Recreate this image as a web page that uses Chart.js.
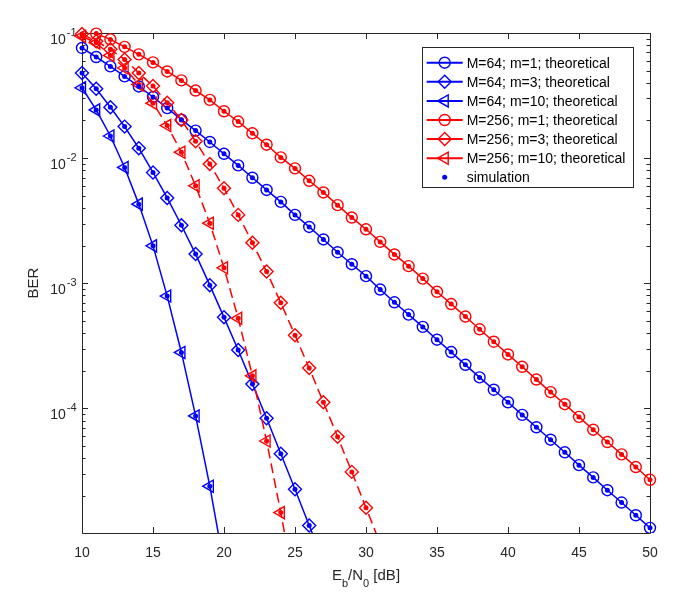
<!DOCTYPE html>
<html>
<head>
<meta charset="utf-8">
<script src="https://cdn.jsdelivr.net/npm/chart.js@4.4.1/dist/chart.umd.min.js"></script>
<style>
html, body { margin: 0; padding: 0; background: #fff; }
canvas { display: block; }
</style>
</head>
<body>
<canvas id="ber-chart" width="689" height="601"></canvas>
<script>
// Eb/N0 grid [dB]
var ebn0 = [10, 11, 12, 13, 14, 15, 16, 17, 18, 19, 20, 21, 22, 23, 24, 25, 26, 27, 28, 29,
	30, 31, 32, 33, 34, 35, 36, 37, 38, 39, 40, 41, 42, 43, 44, 45, 46, 47, 48, 49, 50];

// BER, each list starts at the Eb/N0 given in "first" below
var ber64m1 = [0.0759, 0.0643, 0.0541, 0.0450, 0.0374, 0.0308, 0.0251, 0.0203, 0.0166, 0.01346,
	0.01083, 0.00875, 0.00697, 0.00557, 0.00447, 0.00352, 0.00282, 0.00224, 0.00177, 0.00142,
	0.00114, 8.91e-4, 7.05e-4, 5.62e-4, 4.48e-4, 3.54e-4, 2.82e-4, 2.23e-4, 1.77e-4, 1.41e-4,
	1.12e-4, 8.87e-5, 7.07e-5, 5.62e-5, 4.46e-5, 3.52e-5, 2.81e-5, 2.22e-5, 1.77e-5, 1.40e-5, 1.11e-5];
var ber64m3 = [0.0479, 0.0358, 0.0255, 0.01786, 0.0120, 0.00769, 0.00481, 0.00291, 0.00171, 9.66e-4,
	5.34e-4, 2.93e-4, 1.57e-4, 8.34e-5, 4.34e-5, 2.26e-5, 1.16e-5, 6.0e-6];
var ber64m10 = [0.0365, 0.0243, 0.01503, 0.00843, 0.00429, 0.00199, 7.9e-4, 2.80e-4, 8.71e-5, 2.39e-5, 5.6e-6];
var ber256m1 = [0.0989, 0.0889, 0.0775, 0.0675, 0.0582, 0.0493, 0.0418, 0.0347, 0.0292, 0.0237,
	0.0196, 0.0158, 0.0128, 0.01014, 0.00828, 0.00659, 0.00532, 0.00421, 0.00335, 0.00270,
	0.00214, 0.00170, 0.00137, 0.00109, 8.55e-4, 6.82e-4, 5.42e-4, 4.29e-4, 3.41e-4, 2.70e-4,
	2.15e-4, 1.70e-4, 1.35e-4, 1.08e-4, 8.55e-5, 6.76e-5, 5.39e-5, 4.29e-5, 3.40e-5, 2.69e-5];
var ber256m3 = [0.098, 0.086, 0.074, 0.0615, 0.0479, 0.0377, 0.0277, 0.0202, 0.01365, 0.00898,
	0.00575, 0.00352, 0.00211, 0.00124, 6.98e-4, 3.84e-4, 2.10e-4, 1.12e-4, 5.94e-5, 3.11e-5, 1.61e-5, 8.3e-6];
var ber256m10 = [0.0942, 0.0834, 0.0662, 0.0525, 0.0388, 0.0275, 0.0182, 0.01115, 0.00601, 0.00302,
	0.00133, 5.25e-4, 1.82e-4, 5.49e-5, 1.47e-5, 3.5e-6];

var xTicks = [10, 15, 20, 25, 30, 35, 40, 45, 50];
var yTickExps = [-1, -2, -3, -4];
var seriesLabels = ['M=64; m=1; theoretical', 'M=64; m=3; theoretical', 'M=64; m=10; theoretical',
	'M=256; m=1; theoretical', 'M=256; m=3; theoretical', 'M=256; m=10; theoretical'];
var simLabel = 'simulation';

var blue = '#0000ff', red = '#ff0000', axisColor = '#262626';
var font = "'Liberation Sans', Arial, sans-serif";

var series = [
	{ values: ber64m1, first: 10, color: blue, style: 'circle', radius: 5.5, rot: 0, dash: [] },
	{ values: ber64m3, first: 10, color: blue, style: 'rectRot', radius: 6.5, rot: 0, dash: [] },
	{ values: ber64m10, first: 10, color: blue, style: 'triangle', radius: 7, rot: -90, dash: [] },
	{ values: ber256m1, first: 11, color: red, style: 'circle', radius: 5.5, rot: 0, dash: [] },
	{ values: ber256m3, first: 10, color: red, style: 'rectRot', radius: 6.5, rot: 0, dash: [10, 5] },
	{ values: ber256m10, first: 10, color: red, style: 'triangle', radius: 7, rot: -90, dash: [10, 5] }
];

var toPoints = function(values, first) {
	var start = ebn0.indexOf(first);
	return values.map(function(v, i) { return { x: ebn0[start + i], y: v }; });
};

var clipBox = { left: 10, right: 10, top: 8, bottom: 0 };
var datasets = [];
series.forEach(function(s, i) {
	datasets.push({
		label: seriesLabels[i],
		data: toPoints(s.values, s.first),
		borderColor: s.color,
		borderWidth: 1.5,
		borderDash: s.dash,
		pointStyle: s.style,
		pointRotation: s.rot,
		pointRadius: s.radius,
		pointBorderWidth: 1.4,
		pointBorderColor: s.color,
		pointBackgroundColor: 'rgba(0,0,0,0)',
		fill: false,
		tension: 0,
		clip: clipBox,
		order: 10 - i
	});
});
series.forEach(function(s, i) {
	datasets.push({
		label: simLabel,
		data: toPoints(s.values, s.first),
		showLine: false,
		pointStyle: 'circle',
		pointRadius: 2.5,
		pointBorderWidth: 0,
		pointBackgroundColor: s.color,
		borderColor: s.color,
		clip: clipBox,
		order: 0
	});
});

var drawMarker = function(ctx, style, x, y, r) {
	ctx.beginPath();
	if (style === 'circle') {
		ctx.arc(x, y, r, 0, Math.PI * 2);
	} else if (style === 'rectRot') {
		ctx.moveTo(x - r, y); ctx.lineTo(x, y - r); ctx.lineTo(x + r, y); ctx.lineTo(x, y + r); ctx.closePath();
	} else {
		ctx.moveTo(x - r, y); ctx.lineTo(x + r / 2, y - r * 0.866); ctx.lineTo(x + r / 2, y + r * 0.866); ctx.closePath();
	}
	ctx.stroke();
};

// MATLAB-like box: inward ticks on all sides, superscript log labels, TeX-ish titles
var axesBox = {
	id: 'axesBox',
	beforeDatasetsDraw: function(chart) {
		var ctx = chart.ctx, a = chart.chartArea;
		var xs = chart.scales.x, ys = chart.scales.y;
		ctx.save();
		ctx.strokeStyle = axisColor;
		ctx.lineWidth = 1;
		ctx.beginPath();
		ctx.rect(a.left + 0.5, a.top + 0.5, a.right - a.left, a.bottom - a.top);
		xTicks.forEach(function(v) {
			var px = Math.round(xs.getPixelForValue(v)) + 0.5;
			ctx.moveTo(px, a.bottom); ctx.lineTo(px, a.bottom - 6);
			ctx.moveTo(px, a.top); ctx.lineTo(px, a.top + 6);
		});
		for (var e = -5; e <= -1; e++) {
			for (var m = 1; m <= 9; m++) {
				var v = m * Math.pow(10, e);
				if (v < ys.min || v > ys.max * 1.0001) continue;
				var py = Math.round(ys.getPixelForValue(v)) + 0.5;
				var len = m === 1 ? 6 : 3.5;
				ctx.moveTo(a.left, py); ctx.lineTo(a.left + len, py);
				ctx.moveTo(a.right, py); ctx.lineTo(a.right - len, py);
			}
		}
		ctx.stroke();

		ctx.fillStyle = axisColor;
		ctx.font = '14px ' + font;
		ctx.textAlign = 'center';
		ctx.textBaseline = 'alphabetic';
		xTicks.forEach(function(v) {
			ctx.fillText(String(v), xs.getPixelForValue(v), a.bottom + 24);
		});

		ctx.textAlign = 'right';
		yTickExps.forEach(function(e) {
			var py = ys.getPixelForValue(Math.pow(10, e));
			var expText = '-' + Math.abs(e);
			ctx.font = '11px ' + font;
			var ew = ctx.measureText(expText).width;
			ctx.fillText(expText, a.left - 5.5, py + 3);
			ctx.font = '14px ' + font;
			ctx.fillText('10', a.left - 6.5 - ew, py + 10.5);
		});

		// x title: E_b/N_0 [dB]
		var parts = [['E', 15, 0], ['b', 11, 7], ['/N', 15, 0], ['0', 11, 7], [' [dB]', 15, 0]];
		var total = 0;
		parts.forEach(function(p) { ctx.font = p[1] + 'px ' + font; total += ctx.measureText(p[0]).width; });
		var cx = (a.left + a.right) / 2 - total / 2;
		ctx.textAlign = 'left';
		parts.forEach(function(p) {
			ctx.font = p[1] + 'px ' + font;
			ctx.fillText(p[0], cx, 580 + p[2]);
			cx += ctx.measureText(p[0]).width;
		});

		// y title
		ctx.save();
		ctx.translate(38, (a.top + a.bottom) / 2);
		ctx.rotate(-Math.PI / 2);
		ctx.textAlign = 'center';
		ctx.font = '15px ' + font;
		ctx.fillText('BER', 0, 0);
		ctx.restore();
		ctx.restore();
	},
	afterDraw: function(chart) {
		var ctx = chart.ctx;
		var box = { left: 422.5, top: 47.5, width: 211, height: 140 };
		ctx.save();
		ctx.fillStyle = '#fff';
		ctx.fillRect(box.left, box.top, box.width, box.height);
		ctx.strokeStyle = axisColor;
		ctx.lineWidth = 1;
		ctx.strokeRect(box.left, box.top, box.width, box.height);
		ctx.font = '14px ' + font;
		ctx.textAlign = 'left';
		ctx.textBaseline = 'alphabetic';
		series.forEach(function(s, i) {
			var y = 62.7 + i * 19.1;
			ctx.strokeStyle = s.color;
			ctx.lineWidth = 2;
			ctx.beginPath();
			ctx.moveTo(426.7, y); ctx.lineTo(462.7, y);
			ctx.stroke();
			ctx.lineWidth = 1.4;
			drawMarker(ctx, s.style, 444.7, y, s.radius);
			ctx.fillStyle = '#000';
			ctx.fillText(seriesLabels[i], 466.7, y + 5);
		});
		var ys = 62.7 + 6 * 19.1;
		ctx.fillStyle = blue;
		ctx.beginPath();
		ctx.arc(444.7, ys, 2.5, 0, Math.PI * 2);
		ctx.fill();
		ctx.fillStyle = '#000';
		ctx.fillText(simLabel, 466.7, ys + 5);
		ctx.restore();
	}
};

var ctx = document.getElementById('ber-chart').getContext('2d');
var berChart = new Chart(ctx, {
	type: 'line',
	data: { datasets: datasets },
	options: {
		responsive: false,
		animation: false,
		events: [],
		layout: { padding: { top: 33, right: 39, bottom: 0, left: 0 } },
		plugins: { legend: { display: false }, tooltip: { enabled: false } },
		scales: {
			x: {
				type: 'linear', min: 10, max: 50,
				ticks: { display: false, stepSize: 5 },
				grid: { display: false }, border: { display: false },
				afterFit: function(scale) { scale.height = 68; }
			},
			y: {
				type: 'logarithmic', min: 1.01e-5, max: 0.1,
				ticks: { display: false },
				grid: { display: false }, border: { display: false },
				afterFit: function(scale) { scale.width = 82; }
			}
		}
	},
	plugins: [axesBox]
});
</script>
</body>
</html>
